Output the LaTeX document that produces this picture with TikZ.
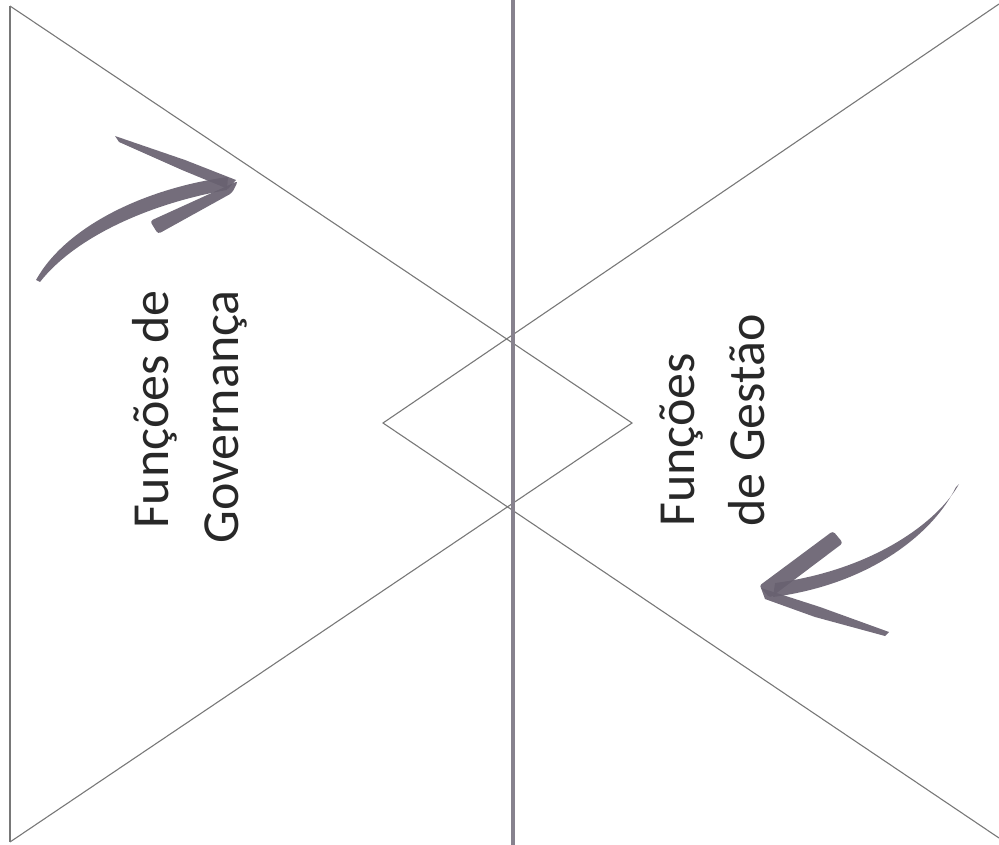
\documentclass[tikz,border=0pt]{standalone}
\usepackage{fontspec}
\setmainfont{Carlito}
\usepackage{tikz}
\usetikzlibrary{positioning,calc}
\definecolor{ink}{RGB}{40,40,40}
\definecolor{edge}{RGB}{120,120,120}
\definecolor{axis}{RGB}{135,130,142}
\definecolor{brush}{RGB}{104,97,112}
\tikzset{
  edgeline/.style={draw=edge,line width=1.1pt},
  axisline/.style={draw=axis,line width=3.2pt},
  brushfill/.style={fill=brush,draw=none,opacity=.92},
  lbl/.style={font=\fontsize{52}{70}\selectfont,text=ink,inner sep=0pt,rotate=90},
}
\begin{document}
\begin{tikzpicture}[x=1pt,y=-1pt]
  \useasboundingbox (0,0) rectangle (999,845);
  % left triangle
  \coordinate (LT) at (10,6);
  \coordinate (LB) at (10,842);
  \coordinate (LA) at (632,423);
  % right triangle
  \coordinate (RT) at (999,4);
  \coordinate (RB) at (999,838);
  \coordinate (RA) at (383,423);
  \draw[edgeline] (LT) -- (LB);
  \draw[edgeline] (LT) -- (LA) -- (LB);
  \draw[edgeline] (RT) -- (RA) -- (RB);
  % middle axis
  \coordinate (MT) at (513,0);
  \coordinate (MB) at (513,845);
  \draw[axisline] (MT) -- (MB);
  % labels
  \node[lbl,align=right,anchor=south east] (gov) at (247,290) {Funções de\\Governança};
  \node[lbl,align=left,anchor=south west] (ges) at (765,527) {Funções\\de Gestão};
  % brush arrow, upper left
  \fill[brushfill] (36,280) .. controls (66,226) and (146,188) .. (228,177)
    -- (227,190) .. controls (152,203) and (76,236) .. (40,282) -- cycle;
  \fill[brushfill] (236,180) -- (185,160) -- (115,136) -- (119,142) -- (182,170) -- (228,189) -- cycle;
  \fill[brushfill,rounded corners=3pt] (238,181) -- (150,221) -- (158,234) -- (232,193) -- cycle;
  % brush arrow, lower right
  \fill[brushfill] (959,484) .. controls (938,522) and (873,570) .. (775,583)
    -- (773,597) .. controls (872,584) and (934,532) .. (956,487) -- cycle;
  \fill[brushfill,rounded corners=3pt] (759,586) -- (833,531) -- (843,543) -- (770,598) -- cycle;
  \fill[brushfill] (761,588) -- (820,607) -- (889,632) -- (885,636) -- (815,617) -- (765,599) -- cycle;
\end{tikzpicture}
\end{document}
